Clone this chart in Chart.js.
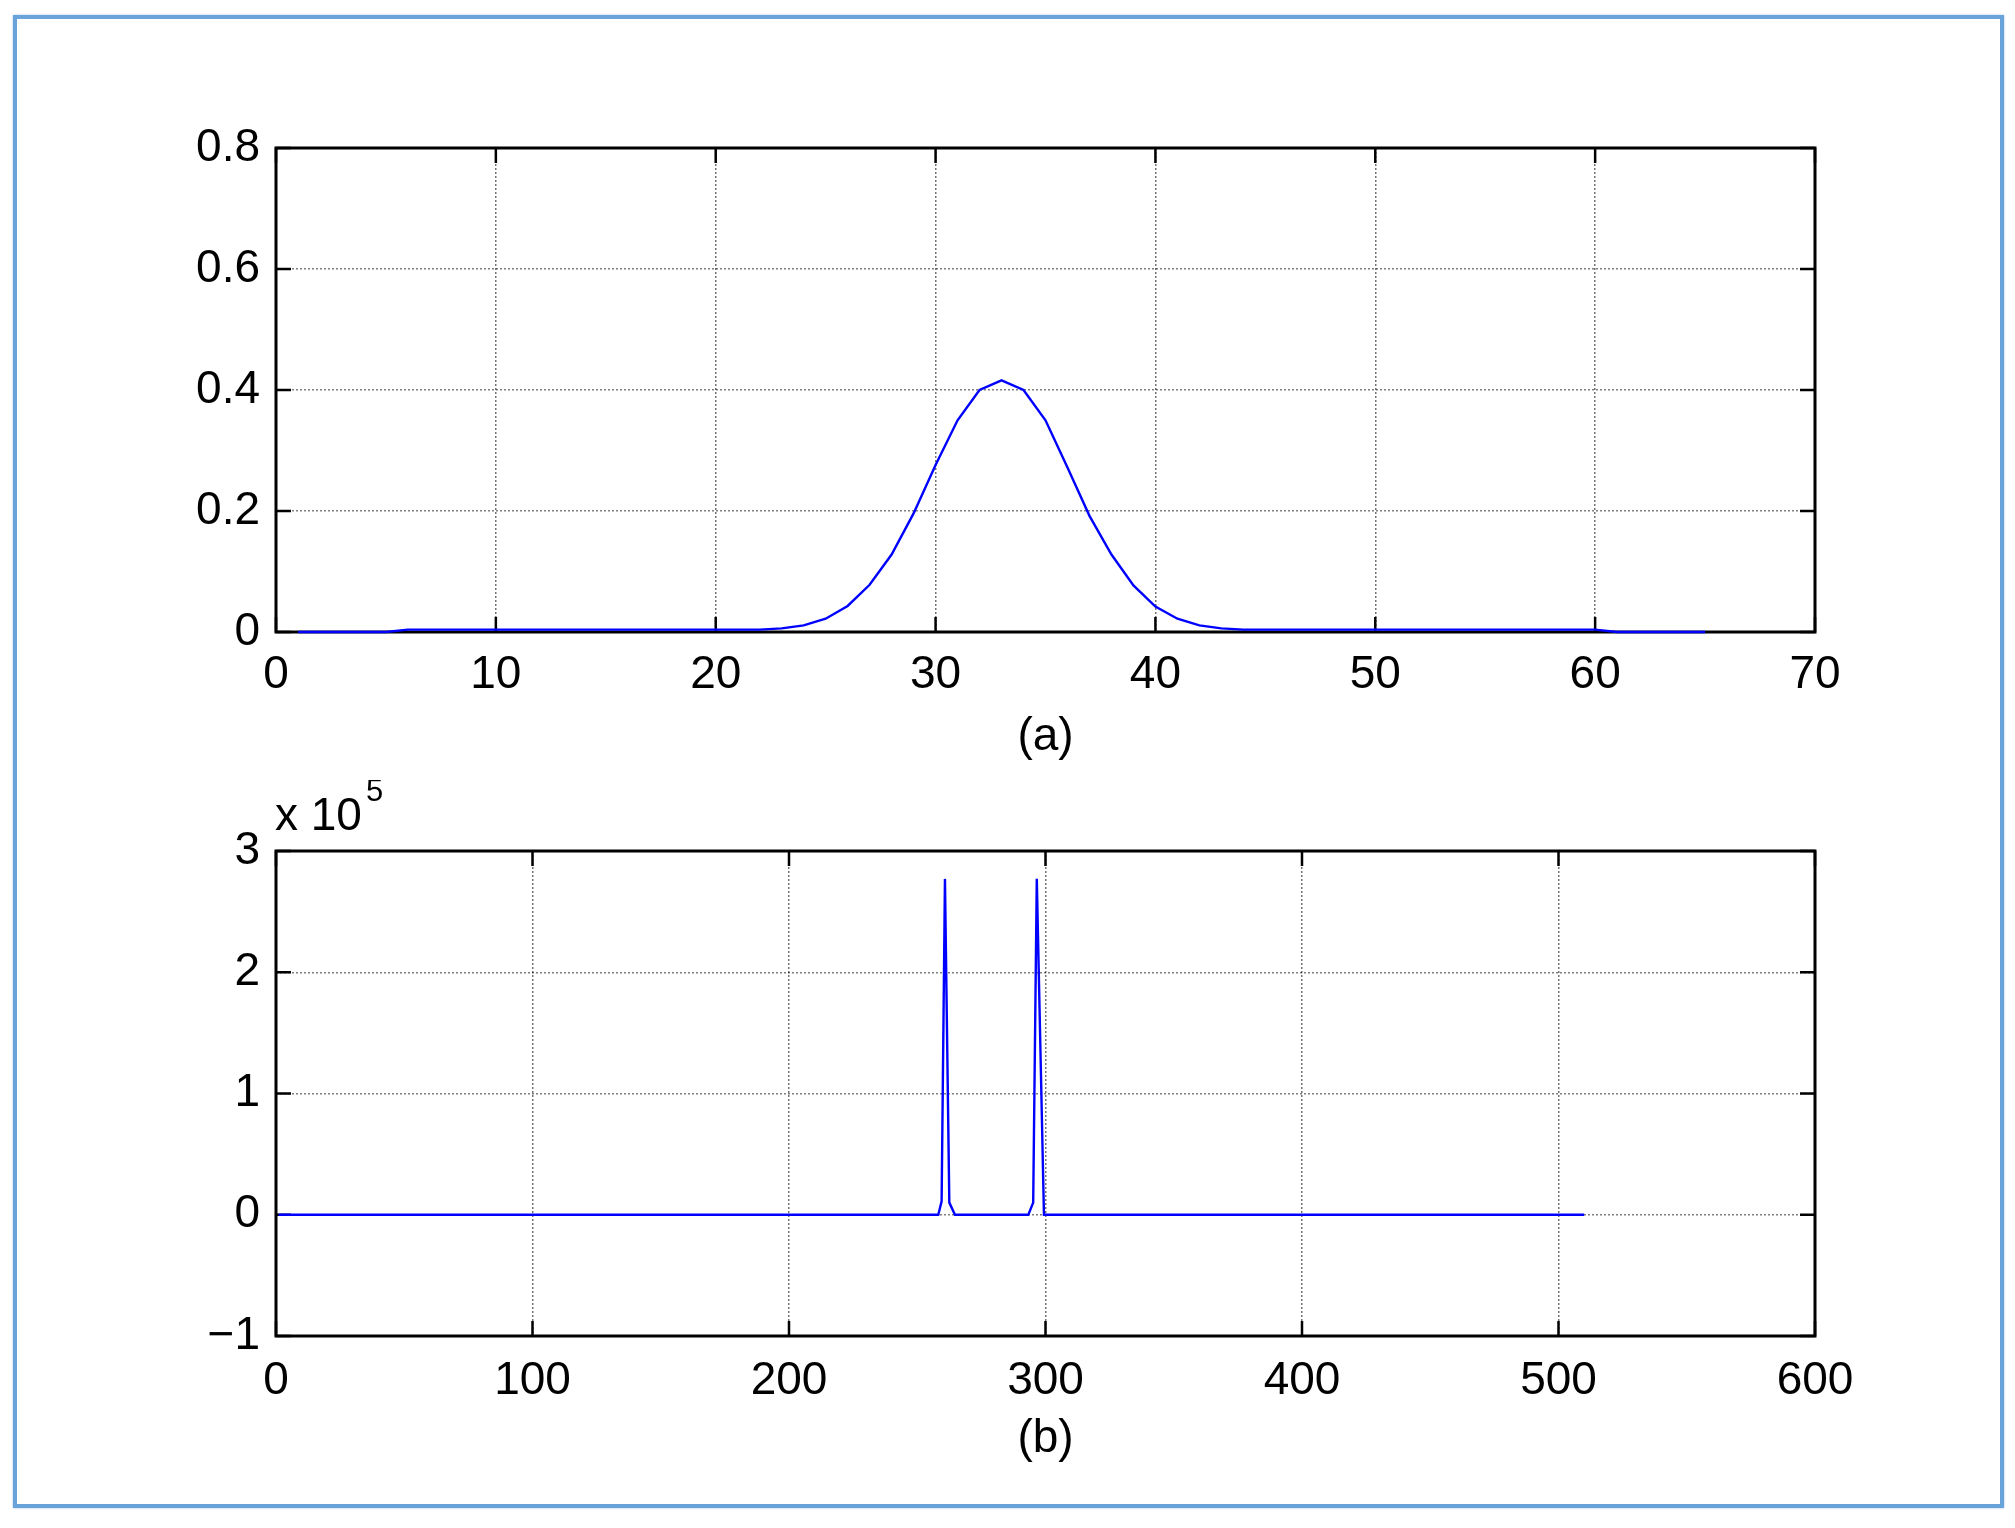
<!DOCTYPE html>
<html>
<head>
<meta charset="utf-8">
<script src="https://cdn.jsdelivr.net/npm/chart.js@4.4.0/dist/chart.umd.min.js"></script>
<style>
  body { margin: 0; background: #fff; }
  #page { position: relative; width: 2015px; height: 1528px; overflow: hidden; }
  #frame {
    position: absolute; left: 13px; top: 15px; width: 1991px; height: 1493px;
    box-sizing: border-box; border: 4px solid #6aa2da; box-shadow: 0 0 2px #9cc2e8;
  }
  canvas { position: absolute; left: 0; }
</style>
</head>
<body>
<div id="page">
  <div id="frame"></div>
  <canvas id="chartA" width="2015" height="780" style="top:0"></canvas>
  <canvas id="chartB" width="2015" height="748" style="top:780px"></canvas>
</div>
<script>
// (a) sample index and value
const topX = [1, 2, 3, 4, 5, 6, 7, 8, 9, 10, 11, 12, 13, 14, 15, 16, 17, 18, 19, 20,
  21, 22, 23, 24, 25, 26, 27, 28, 29, 30, 31, 32, 33, 34, 35, 36, 37, 38, 39, 40,
  41, 42, 43, 44, 45, 46, 47, 48, 49, 50, 51, 52, 53, 54, 55, 56, 57, 58, 59, 60,
  61, 62, 63, 64, 65];
const topY = [0, 0, 0, 0, 0, 0.004, 0.004, 0.004, 0.004, 0.004, 0.004, 0.004, 0.004, 0.004, 0.004, 0.004, 0.004, 0.004, 0.004, 0.004,
  0.004, 0.004, 0.006, 0.011, 0.022, 0.043, 0.078, 0.128, 0.196, 0.276, 0.35, 0.40, 0.416, 0.40, 0.35, 0.272, 0.192, 0.128, 0.077, 0.042,
  0.022, 0.011, 0.006, 0.004, 0.004, 0.004, 0.004, 0.004, 0.004, 0.004, 0.004, 0.004, 0.004, 0.004, 0.004, 0.004, 0.004, 0.004, 0.004, 0.004,
  0, 0, 0, 0, 0];
const topXTicks = [0, 10, 20, 30, 40, 50, 60, 70];
const topXLabels = ['0', '10', '20', '30', '40', '50', '60', '70'];
const topYTicks = [0, 0.2, 0.4, 0.6, 0.8];
const topYLabels = ['0', '0.2', '0.4', '0.6', '0.8'];

// (b) vertices of the trace
const bottomX = [1, 258.2, 259.5, 260.8, 262.5, 264.7, 293.3, 295.2, 296.6, 299.4, 510];
const bottomY = [0, 0, 11000, 277000, 10000, 0, 0, 10000, 277000, 0, 0];
const bottomXTicks = [0, 100, 200, 300, 400, 500, 600];
const bottomXLabels = ['0', '100', '200', '300', '400', '500', '600'];
const bottomYTicks = [-100000, 0, 100000, 200000, 300000];
const bottomYLabels = ['\u22121', '0', '1', '2', '3'];

const FONT = "'Liberation Sans', Arial, Helvetica, sans-serif";

// frame round the plot area plus inward ticks on all four sides
const boxPlugin = {
  id: 'box',
  beforeDatasetsDraw(chart) {
    const { ctx, chartArea: a, scales } = chart;
    const len = 15;
    ctx.save();
    ctx.strokeStyle = '#000';
    ctx.lineWidth = 2.5;
    ctx.beginPath();
    scales.x.ticks.forEach(t => {
      const px = scales.x.getPixelForValue(t.value);
      ctx.moveTo(px, a.bottom); ctx.lineTo(px, a.bottom - len);
      ctx.moveTo(px, a.top); ctx.lineTo(px, a.top + len);
    });
    scales.y.ticks.forEach(t => {
      const py = scales.y.getPixelForValue(t.value);
      ctx.moveTo(a.left, py); ctx.lineTo(a.left + len, py);
      ctx.moveTo(a.right, py); ctx.lineTo(a.right - len, py);
    });
    ctx.stroke();
    ctx.lineWidth = 3;
    ctx.strokeRect(a.left, a.top, a.right - a.left, a.bottom - a.top);
    ctx.restore();
  }
};

// "x 10^5" exponent label above the (b) axis
const exponentPlugin = {
  id: 'exponent',
  afterDraw(chart, args, opts) {
    if (!opts.text) return;
    const { ctx, chartArea: a } = chart;
    ctx.save();
    ctx.fillStyle = '#000';
    ctx.textBaseline = 'alphabetic';
    ctx.font = '46px ' + FONT;
    ctx.fillText(opts.text, a.left - 1, a.top - 21);
    const w = ctx.measureText(opts.text).width;
    ctx.font = '31px ' + FONT;
    ctx.fillText(opts.sup, a.left - 1 + w + 4, a.top - 50);
    ctx.restore();
  }
};

function makeChart(id, xs, ys, cfg) {
  const points = xs.map((x, i) => ({ x: x, y: ys[i] }));
  return new Chart(document.getElementById(id), {
    type: 'line',
    data: {
      datasets: [{
        data: points,
        borderColor: '#0000ff',
        borderWidth: 2.4,
        pointRadius: 0,
        tension: 0,
        fill: false,
        clip: false,
      }],
    },
    options: {
      responsive: false,
      animation: false,
      events: [],
      layout: { padding: { top: cfg.padTop, right: 200, left: 0, bottom: 0 } },
      plugins: {
        legend: { display: false },
        tooltip: { enabled: false },
        exponent: { text: cfg.expText, sup: cfg.expSup },
      },
      scales: {
        x: {
          type: 'linear',
          min: cfg.xTicks[0],
          max: cfg.xTicks[cfg.xTicks.length - 1],
          afterBuildTicks: s => { s.ticks = cfg.xTicks.map(v => ({ value: v })); },
          afterFit: s => { s.height = cfg.xHeight; },
          ticks: {
            autoSkip: false,
            maxRotation: 0,
            padding: cfg.xPad,
            color: '#000',
            font: { family: FONT, size: 46 },
            callback: (v, i) => cfg.xLabels[i],
          },
          grid: { color: 'rgba(0,0,0,0.55)', lineWidth: 1.5, drawTicks: false },
          border: { display: false, dash: [2, 2] },
          title: {
            display: true,
            text: cfg.title,
            color: '#000',
            font: { family: FONT, size: 46 },
            padding: { top: 0, bottom: cfg.titlePad },
          },
        },
        y: {
          type: 'linear',
          min: cfg.yTicks[0],
          max: cfg.yTicks[cfg.yTicks.length - 1],
          afterBuildTicks: s => { s.ticks = cfg.yTicks.map(v => ({ value: v })); },
          afterFit: s => { s.width = 276; },
          ticks: {
            autoSkip: false,
            padding: 16,
            color: '#000',
            font: { family: FONT, size: 46 },
            callback: (v, i) => cfg.yLabels[i],
          },
          grid: { color: 'rgba(0,0,0,0.5)', lineWidth: 1.5, drawTicks: false },
          border: { display: false, dash: [2, 2] },
        },
      },
    },
    plugins: [boxPlugin, exponentPlugin],
  });
}

makeChart('chartA', topX, topY, {
  padTop: 148, xHeight: 148, titlePad: 15, xPad: 16,
  xTicks: topXTicks, xLabels: topXLabels,
  yTicks: topYTicks, yLabels: topYLabels,
  title: '(a)',
});

makeChart('chartB', bottomX, bottomY, {
  padTop: 71, xHeight: 192, titlePad: 61, xPad: 18,
  xTicks: bottomXTicks, xLabels: bottomXLabels,
  yTicks: bottomYTicks, yLabels: bottomYLabels,
  title: '(b)', expText: 'x 10', expSup: '5',
});
</script>
</body>
</html>
